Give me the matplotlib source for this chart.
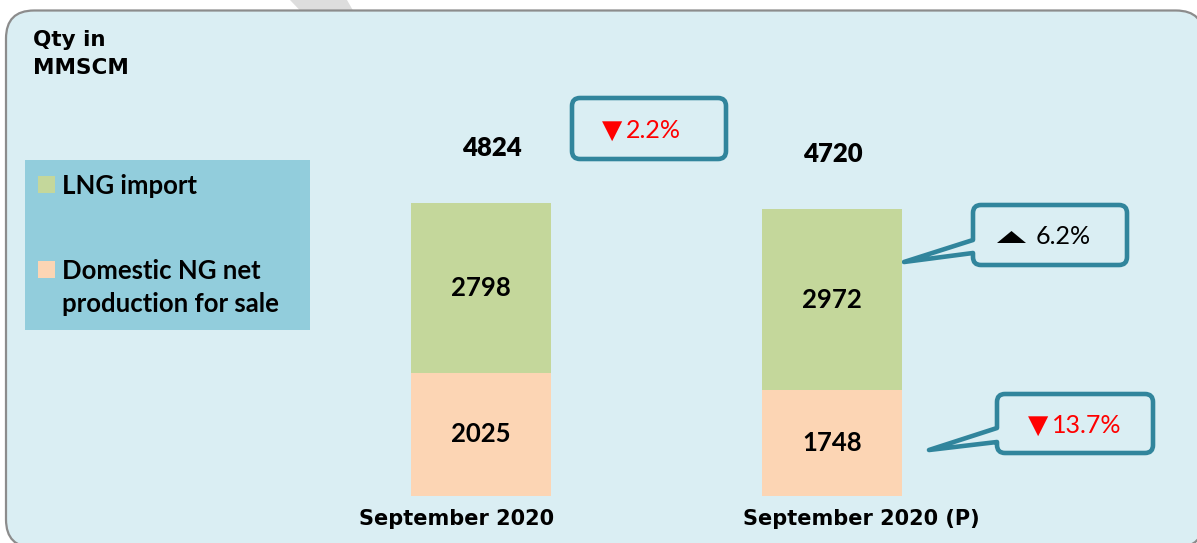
import matplotlib
matplotlib.use("Agg")
import matplotlib.pyplot as plt
from matplotlib.patches import FancyBboxPatch, Rectangle, PathPatch, Polygon
from matplotlib.path import Path
from matplotlib.transforms import offset_copy

# data
categories = ["September 2020", "September 2020 (P)"]
series_names = ["Domestic NG net\nproduction for sale", "LNG import"]
domestic = [2025, 1748]
lng = [2798, 2972]
totals = [4824, 4720]
change_total = -2.2
change_lng = 6.2
change_domestic = -13.7

BG = "#DAEEF3"
LEGEND_BG = "#92CDDC"
TEAL = "#31859C"
GREEN = "#C4D79B"
ORANGE = "#FCD5B4"
TEXT_FONT = ["Lato", "DejaVu Sans"]
HEAD_FONT = ["DejaVu Sans"]

W, H = 1197, 543
fig = plt.figure(figsize=(W / 100, H / 100), dpi=100, facecolor="white")

# pixel-space canvas for the frame, legend and callouts
bg = fig.add_axes([0, 0, 1, 1], zorder=0)
bg.set_xlim(0, W)
bg.set_ylim(H, 0)
bg.axis("off")

bg.add_patch(Polygon([(290, 0), (347, 0), (353, 10.5), (300, 10.5)],
                     closed=True, facecolor="#DDDDDD", edgecolor="none"))
bg.add_patch(FancyBboxPatch((6, 10.5), 1198, 537,
                            boxstyle="round,pad=0,rounding_size=28",
                            facecolor=BG, edgecolor="#8C8C8C", linewidth=1.6))

bg.text(33, 40, "Qty in", fontsize=15.5, fontweight="bold", family=HEAD_FONT,
        va="center", ha="left")
bg.text(33, 68, "MMSCM", fontsize=15.5, fontweight="bold", family=HEAD_FONT,
        va="center", ha="left")

# legend box
bg.add_patch(Rectangle((25, 160), 285, 170, facecolor=LEGEND_BG, edgecolor="none"))
legend_rows = [(series_names[1], GREEN, 185), (series_names[0], ORANGE, 270)]
for label, color, yc in legend_rows:
    bg.add_patch(Rectangle((38, yc - 9), 17, 17, facecolor=color, edgecolor="none"))
    bg.text(62, yc - 11, label, fontsize=18.5, fontweight="bold", family=TEXT_FONT,
            va="top", ha="left", linespacing=1.45)


def callout(x0, y0, x1, y1, value, tri_dx, num_dx, tip=None, r=8):
    if tip is None:
        start = (x0, (y0 + y1) / 2)
    else:
        start = (x0, tip[0])
    verts = [start, (x0, y0 + r), (x0, y0), (x0 + r, y0),
             (x1 - r, y0), (x1, y0), (x1, y0 + r),
             (x1, y1 - r), (x1, y1), (x1 - r, y1),
             (x0 + r, y1), (x0, y1), (x0, y1 - r)]
    codes = [Path.MOVETO, Path.LINETO, Path.CURVE3, Path.CURVE3,
             Path.LINETO, Path.CURVE3, Path.CURVE3,
             Path.LINETO, Path.CURVE3, Path.CURVE3,
             Path.LINETO, Path.CURVE3, Path.CURVE3]
    if tip is not None:
        verts += [(x0, tip[1]), (tip[2], tip[3]), start]
    else:
        verts += [start]
    codes += [Path.LINETO] * (len(verts) - len(codes) - 1) + [Path.CLOSEPOLY]
    bg.add_patch(PathPatch(Path(verts, codes), facecolor=BG, edgecolor=TEAL,
                           linewidth=3.3, joinstyle="round", zorder=5))
    cx, cy = (x0 + x1) / 2, (y0 + y1) / 2 + 2
    if value < 0:
        color = "#FF0000"
        bg.text(cx + tri_dx, cy, "\u25bc", color=color, fontsize=19,
                family=["DejaVu Sans"], ha="right", va="center", zorder=6)
    else:
        color = "black"
        # flat up-arrow marker as in the source
        tx = cx + tri_dx
        bg.add_patch(Polygon([(tx - 29, cy + 6), (tx, cy + 6), (tx - 14.5, cy - 6)],
                             closed=True, facecolor="black", edgecolor="none",
                             zorder=6))
    bg.text(cx + num_dx, cy, f"{abs(value):.1f}%", color=color, fontsize=18,
            family=TEXT_FONT, ha="left", va="center", zorder=6)


callout(572, 98, 726, 159, change_total, -27, -23)
callout(973, 205, 1127, 265, change_lng, -24, -14, tip=(240, 253, 904, 262))
callout(997, 394, 1153, 453, change_domestic, -27, -23, tip=(428, 442, 929, 450))

# bar axes: data scale mapped onto the picture area
left_px, bottom_px, width_px, height_px = 305.5, 496, 702, 303.75
ax = fig.add_axes([left_px / W, (H - bottom_px) / H, width_px / W, height_px / H],
                  zorder=1)
ax.patch.set_alpha(0)
ax.axis("off")
ax.set_xlim(-0.5, 1.5)
ax.set_ylim(0, 5000)

x = list(range(len(categories)))
b1 = ax.bar(x, domestic, width=0.4, color=ORANGE, linewidth=0)
b2 = ax.bar(x, lng, width=0.4, bottom=domestic, color=GREEN, linewidth=0)

for bars, vals, base in ((b1, domestic, [0, 0]), (b2, lng, domestic)):
    for rect, v, b in zip(bars, vals, base):
        ax.text(rect.get_x() + rect.get_width() / 2, b + v / 2, f"{v}",
                fontsize=18.5, fontweight="bold", family=TEXT_FONT,
                ha="center", va="center")

total_dx = [11, 1]
label_dx = [-24, 29]
for i, (d, l) in enumerate(zip(domestic, lng)):
    tr = offset_copy(ax.transData, fig=fig, x=total_dx[i], y=55, units="dots")
    ax.text(i, d + l, f"{totals[i]}", transform=tr, fontsize=18.5,
            fontweight="heavy", family=TEXT_FONT, ha="center", va="center",
            clip_on=False)
    tr = offset_copy(ax.transData, fig=fig, x=label_dx[i], y=-23, units="dots")
    ax.text(i, 0, categories[i], transform=tr, fontsize=15, fontweight="bold",
            family=HEAD_FONT, ha="center", va="center", clip_on=False)

fig.savefig("out.png", dpi=100, facecolor="white")
